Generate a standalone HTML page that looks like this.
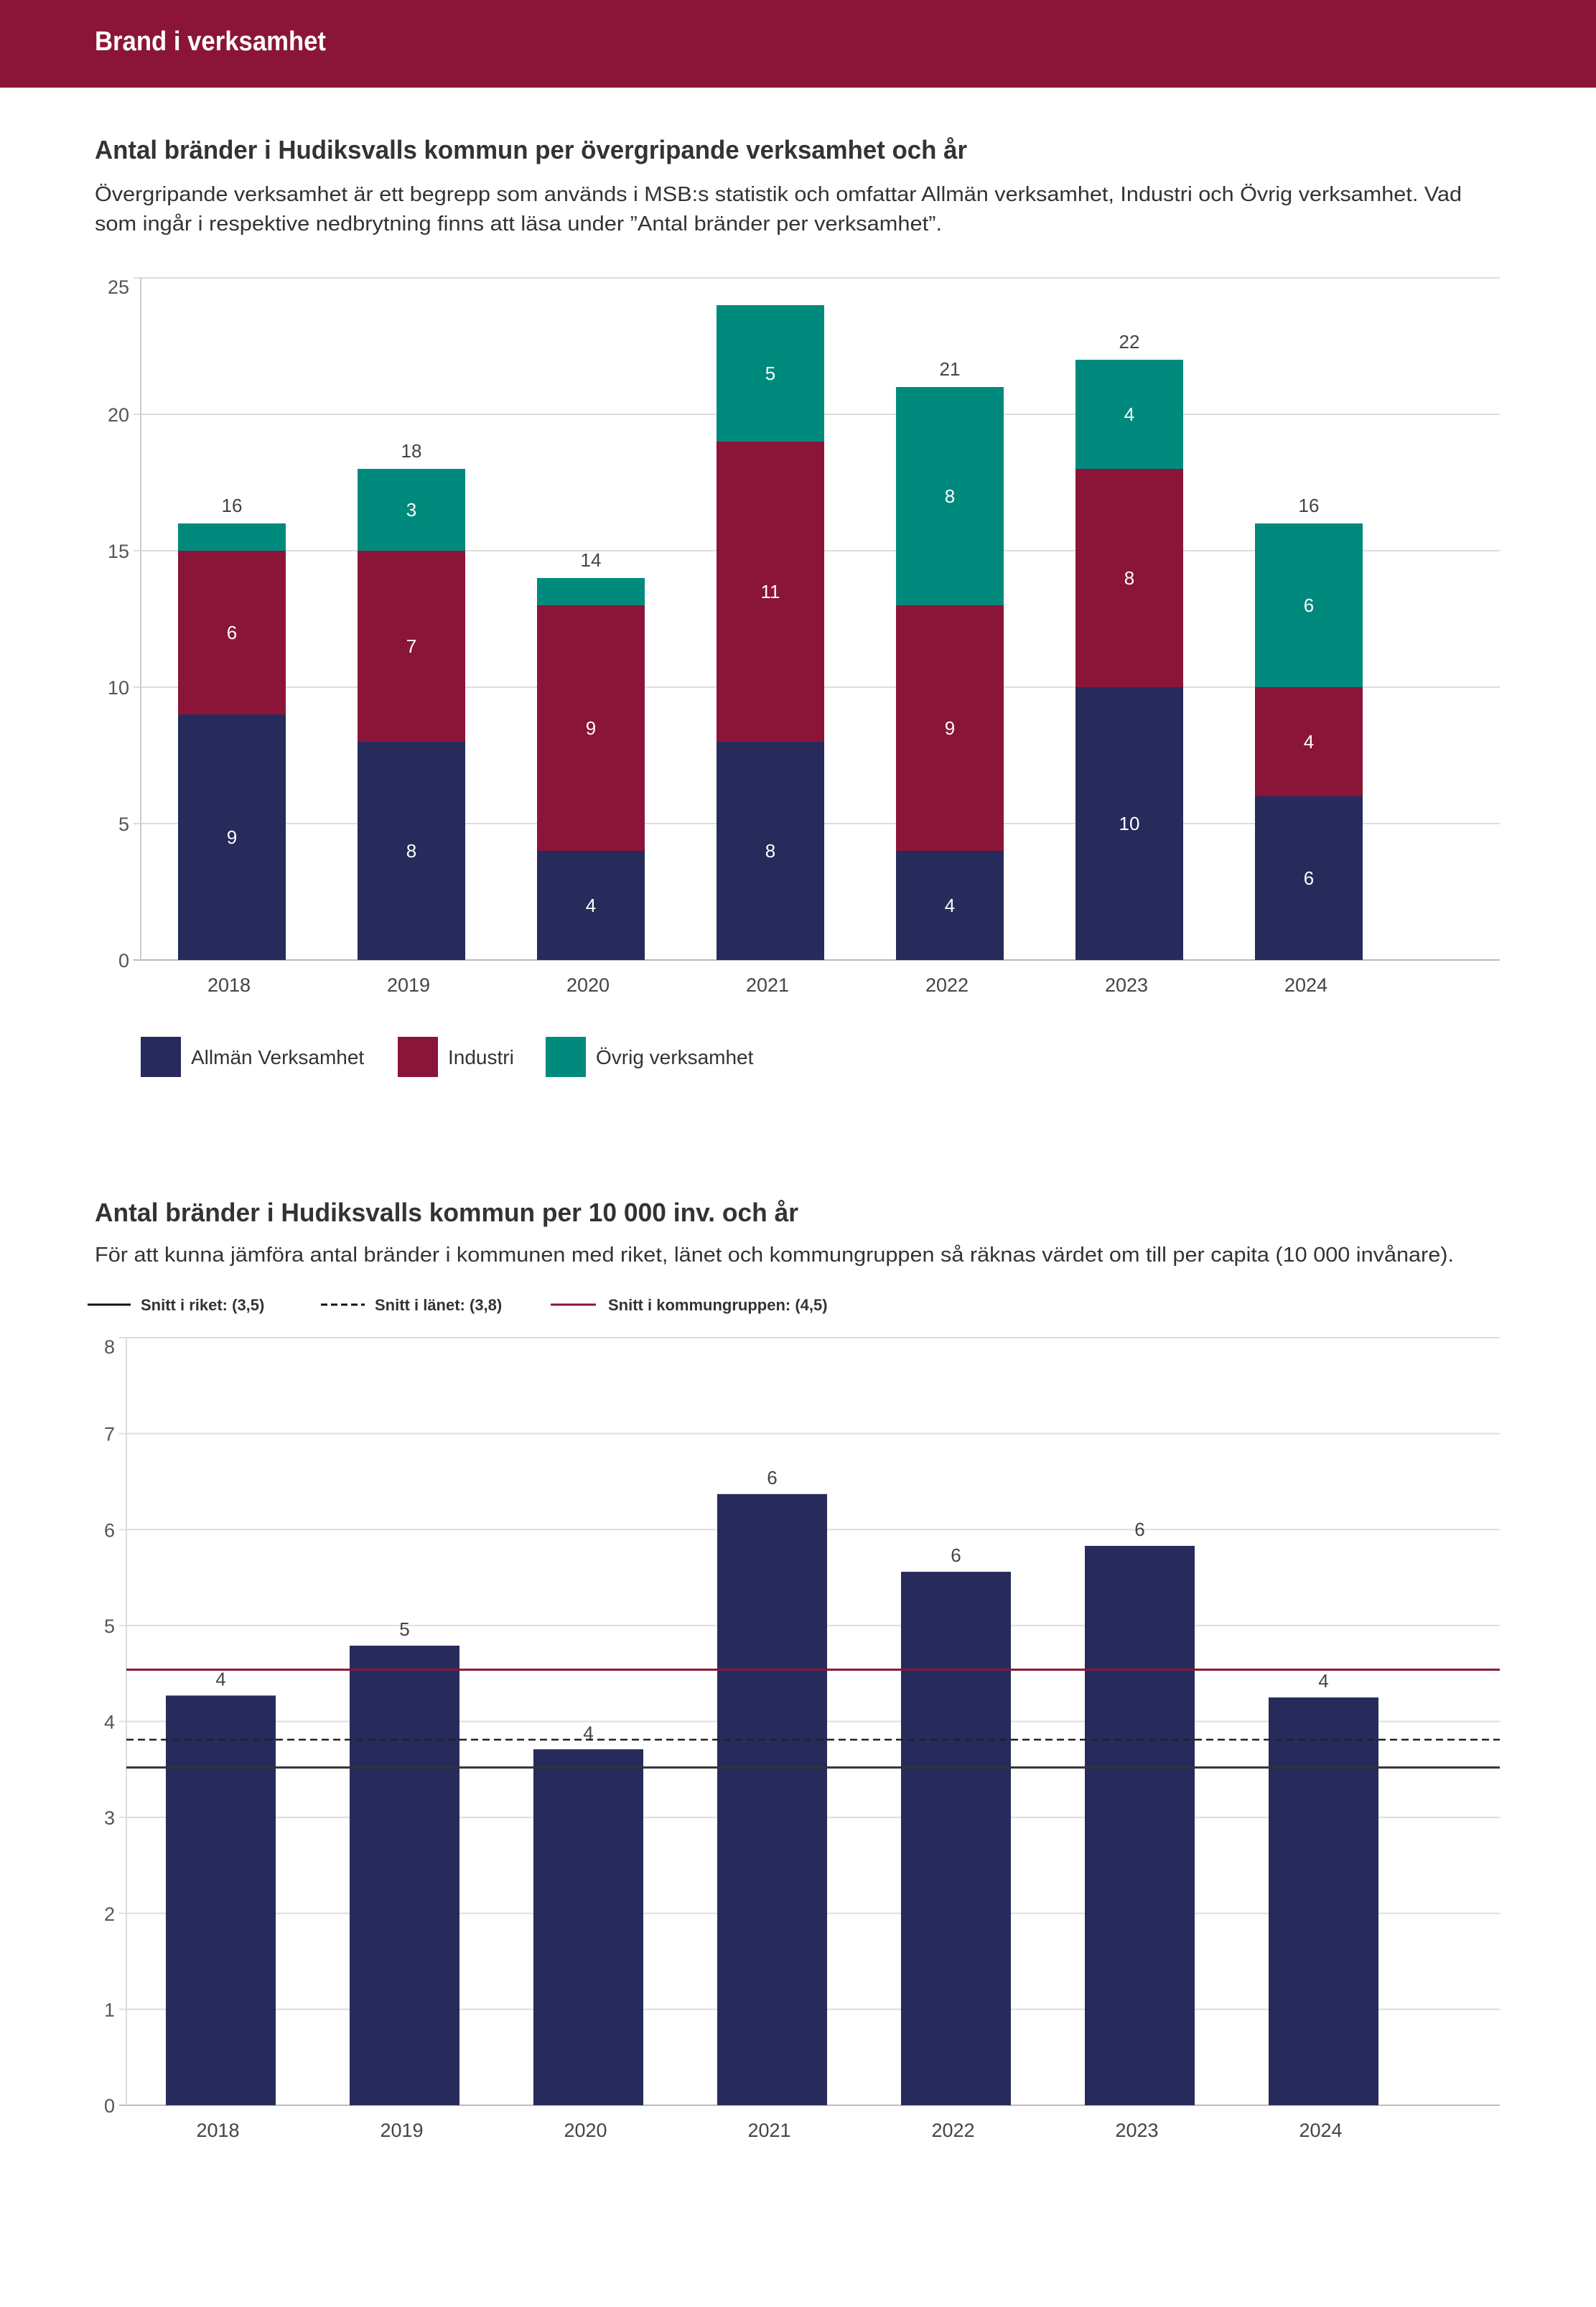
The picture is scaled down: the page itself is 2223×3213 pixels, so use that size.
<!DOCTYPE html>
<html><head><meta charset="utf-8"><style>
html,body{margin:0;padding:0;background:#fff;}
svg{display:block;font-family:"Liberation Sans",sans-serif;}
</style></head><body>
<svg id="svg" width="2223" height="3213" viewBox="0 0 2223 3213" xmlns="http://www.w3.org/2000/svg">
<rect x="0" y="0" width="2223" height="122" fill="#8b1538"/>
<text x="132" y="70" font-size="38" font-weight="bold" fill="#fff" textLength="322" lengthAdjust="spacingAndGlyphs">Brand i verksamhet</text>
<text x="132" y="221" font-size="36" font-weight="bold" fill="#333" textLength="1215" lengthAdjust="spacingAndGlyphs">Antal bränder i Hudiksvalls kommun per övergripande verksamhet och år</text>
<text x="132" y="280" font-size="29" fill="#333" textLength="1904" lengthAdjust="spacingAndGlyphs">Övergripande verksamhet är ett begrepp som används i MSB:s statistik och omfattar Allmän verksamhet, Industri och Övrig verksamhet. Vad</text>
<text x="132" y="321" font-size="29" fill="#333" textLength="1180" lengthAdjust="spacingAndGlyphs">som ingår i respektive nedbrytning finns att läsa under ”Antal bränder per verksamhet”.</text>
<g id="c1"></g>
<g id="leg1">
<rect x="196" y="1444" width="56" height="56" fill="#262b5b"/>
<text x="266" y="1482" font-size="28" fill="#333">Allmän Verksamhet</text>
<rect x="554" y="1444" width="56" height="56" fill="#8b1538"/>
<text x="624" y="1482" font-size="28" fill="#333">Industri</text>
<rect x="760" y="1444" width="56" height="56" fill="#008a7e"/>
<text x="830" y="1482" font-size="28" fill="#333">Övrig verksamhet</text>
</g>
<text x="132" y="1701" font-size="36" font-weight="bold" fill="#333" textLength="980" lengthAdjust="spacingAndGlyphs">Antal bränder i Hudiksvalls kommun per 10 000 inv. och år</text>
<text x="132" y="1757" font-size="29" fill="#333" textLength="1893" lengthAdjust="spacingAndGlyphs">För att kunna jämföra antal bränder i kommunen med riket, länet och kommungruppen så räknas värdet om till per capita (10 000 invånare).</text>
<g>
<line x1="122" y1="1817" x2="182" y2="1817" stroke="#111" stroke-width="3"/>
<text x="196" y="1825" font-size="22" font-weight="bold" fill="#333">Snitt i riket: (3,5)</text>
<line x1="447" y1="1817" x2="508" y2="1817" stroke="#111" stroke-width="3" stroke-dasharray="9,5"/>
<text x="522" y="1825" font-size="22" font-weight="bold" fill="#333">Snitt i länet: (3,8)</text>
<line x1="767" y1="1817" x2="830" y2="1817" stroke="#8b1538" stroke-width="3"/>
<text x="847" y="1825" font-size="22" font-weight="bold" fill="#333">Snitt i kommungruppen: (4,5)</text>
</g>
<g id="c2"></g>
</svg>
<script>
const years = ["2018","2019","2020","2021","2022","2023","2024"];
const allman = [9,8,4,8,4,10,6];
const industri = [6,7,9,11,9,8,4];
const ovrig = [1,3,1,5,8,4,6];
const ticks1 = [0,5,10,15,20,25];
const perCapita = [4.27,4.79,3.71,6.37,5.56,5.83,4.25];
const perCapitaLabels = ["4","5","4","6","6","6","4"];
const ticks2 = [0,1,2,3,4,5,6,7,8];
const avgRiket = 3.52;
const avgLanet = 3.81;
const avgGrupp = 4.54;

const NS = "http://www.w3.org/2000/svg";
function mk(parent, tag, attrs, text){
  const e = document.createElementNS(NS, tag);
  for (const k in attrs) e.setAttribute(k, attrs[k]);
  if (text !== undefined) e.textContent = text;
  parent.appendChild(e);
  return e;
}
// Chart 1
(function(){
  const g = document.getElementById('c1');
  const L=196, R=2089, T=387, B=1337, max=25;
  const y = v => B - v/max*(B-T);
  const step=250, bw=150, x0=248;
  const x = i => x0 + i*step;
  ticks1.forEach(t=>{
    const ln = mk(g,'line',{x1:L-10,x2:R,y1:y(t),y2:y(t),stroke:t===0?'#bbb':'#ddd','stroke-width':2});
    
    
    const tx = mk(g,'text',{x:180,y:y(t)+(t===25?22:10),'font-size':27,fill:'#555','text-anchor':'end'},String(t));
    
    
  });
  const ax = mk(g,'line',{x1:L,x2:L,y1:T,y2:B,stroke:'#ccc','stroke-width':2});
  
  
  const series=[[allman,'#262b5b','allman'],[industri,'#8b1538','industri'],[ovrig,'#008a7e','ovrig']];
  years.forEach((yr,i)=>{
    let base=0;
    series.forEach(([arr,col,nm])=>{
      const v=arr[i];
      const r = mk(g,'rect',{x:x(i),y:y(base+v),width:bw,height:y(base)-y(base+v),fill:col});
      
      
      if (v>1){
        const t = mk(g,'text',{x:x(i)+bw/2,y:(y(base)+y(base+v))/2+9,'font-size':26,fill:'#fff','text-anchor':'middle'},String(v));
        
        
      }
      base+=v;
    });
    if (y(base)-40 > T) {
      const tot = mk(g,'text',{x:x(i)+bw/2,y:y(base)-16,'font-size':26,fill:'#444','text-anchor':'middle'},String(base));
      
      
    }
    const xl = mk(g,'text',{x:x(i)+bw/2-4,y:1381,'font-size':27,fill:'#444','text-anchor':'middle'},yr);
    
    
  });
})();
// Chart 2
(function(){
  const g = document.getElementById('c2');
  const L=176, R=2089, T=1863, B=2932, max=8;
  const y = v => B - v/max*(B-T);
  const step=256, bw=153, x0=231;
  const x = i => x0 + i*step;
  ticks2.forEach(t=>{
    const ln = mk(g,'line',{x1:L-10,x2:R,y1:y(t),y2:y(t),stroke:t===0?'#bbb':'#ddd','stroke-width':2});
    
    
    const tx = mk(g,'text',{x:160,y:y(t)+(t===8?22:10),'font-size':27,fill:'#555','text-anchor':'end'},String(t));
    
    
  });
  const ax = mk(g,'line',{x1:L,x2:L,y1:T,y2:B,stroke:'#ddd','stroke-width':2});
  
  
  years.forEach((yr,i)=>{
    const v=perCapita[i];
    const r = mk(g,'rect',{x:x(i),y:y(v),width:bw,height:B-y(v),fill:'#262b5b'});
    
    
    const t = mk(g,'text',{x:x(i)+bw/2,y:y(v)-14,'font-size':26,fill:'#444','text-anchor':'middle'},perCapitaLabels[i]);
    
    
    const xl = mk(g,'text',{x:x(i)+bw/2-4,y:2976,'font-size':27,fill:'#444','text-anchor':'middle'},yr);
    
    
  });
  const l1 = mk(g,'line',{x1:L,x2:R,y1:y(avgGrupp),y2:y(avgGrupp),stroke:'#8b1538','stroke-width':3});
  
  
  const l2 = mk(g,'line',{x1:L,x2:R,y1:y(avgLanet),y2:y(avgLanet),stroke:'#222','stroke-width':2.5,'stroke-dasharray':'10,6'});
  
  
  const l3 = mk(g,'line',{x1:L,x2:R,y1:y(avgRiket),y2:y(avgRiket),stroke:'#333','stroke-width':3});
  
  
})();
</script>
</body></html>
